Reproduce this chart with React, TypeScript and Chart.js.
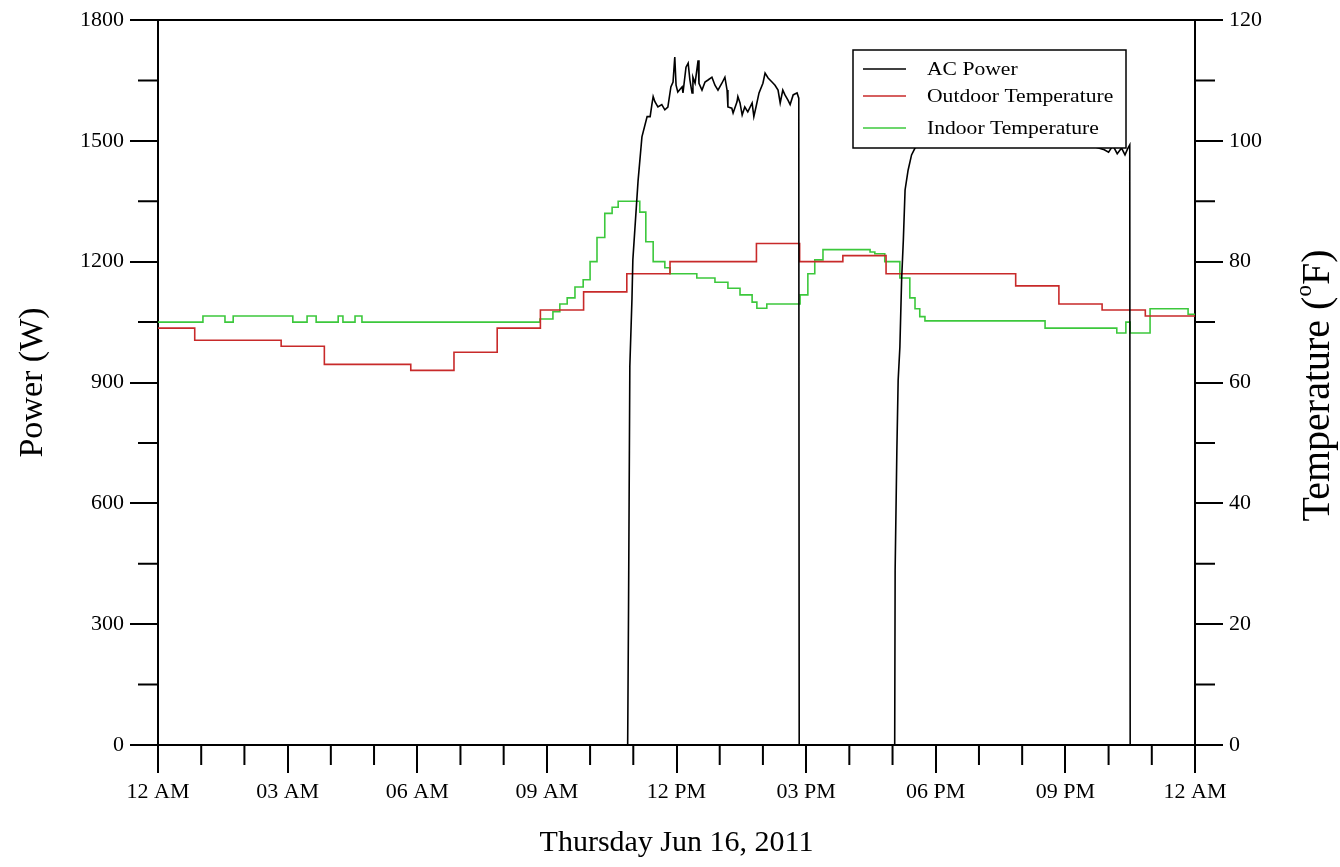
import React, { useEffect, useRef } from 'react';
import { Chart, registerables } from 'chart.js';

Chart.register(...registerables);

const X_TICK_LABELS = ['12 AM', '03 AM', '06 AM', '09 AM', '12 PM', '03 PM', '06 PM', '09 PM', '12 AM'];
const SERIES_LABELS = ['AC Power', 'Outdoor Temperature', 'Indoor Temperature'];
const X_TITLE = 'Thursday Jun 16, 2011';
const LEFT_TITLE = 'Power (W)';

const POWER_HOURS = [0, 10.87, 10.89, 10.92, 10.97, 10.99, 11.11, 11.2, 11.32, 11.39, 11.43, 11.46, 11.5, 11.57, 11.66, 11.73, 11.8, 11.87, 11.92, 11.96, 11.99, 12.03, 12.13, 12.15, 12.22, 12.27, 12.31, 12.36, 12.38, 12.43, 12.5, 12.52, 12.59, 12.66, 12.73, 12.82, 12.89, 12.96, 13.05, 13.12, 13.17, 13.19, 13.28, 13.31, 13.4, 13.42, 13.47, 13.52, 13.58, 13.65, 13.75, 13.79, 13.84, 13.91, 14.0, 14.05, 14.12, 14.21, 14.28, 14.35, 14.4, 14.46, 14.51, 14.58, 14.63, 14.7, 14.79, 14.83, 14.84, 17.05, 17.06, 17.1, 17.13, 17.17, 17.21, 17.25, 17.29, 17.36, 17.44, 17.52, 17.6, 18.5, 19.5, 20.5, 21.5, 21.9, 22.0, 22.1, 22.2, 22.3, 22.38, 22.44, 22.49, 22.5, 24];
const POWER_WATTS = [0, 0, 340, 940, 1110, 1205, 1400, 1510, 1560, 1560, 1590, 1610, 1597, 1584, 1590, 1577, 1584, 1634, 1646, 1708, 1638, 1621, 1634, 1619, 1683, 1693, 1651, 1619, 1658, 1643, 1700, 1643, 1626, 1646, 1651, 1658, 1638, 1626, 1643, 1658, 1626, 1584, 1581, 1569, 1597, 1610, 1594, 1564, 1584, 1572, 1594, 1560, 1584, 1619, 1643, 1668, 1656, 1646, 1638, 1626, 1594, 1626, 1614, 1601, 1590, 1614, 1619, 1606, 0, 0, 434, 732, 906, 988, 1155, 1254, 1378, 1427, 1465, 1482, 1488, 1492, 1490, 1489, 1491, 1478, 1472, 1488, 1468, 1482, 1465, 1480, 1490, 0, 0];

const OUTDOOR_HOURS = [0, 0.85, 2.85, 3.85, 5.85, 6.85, 7.85, 8.85, 9.85, 10.85, 11.85, 13.85, 14.85, 15.85, 16.85, 19.85, 20.85, 21.85, 22.85, 24];
const OUTDOOR_TEMPS = [69, 67, 66, 63, 62, 65, 69, 72, 75, 78, 80, 83, 80, 81, 78, 76, 73, 72, 71, 71];

const INDOOR_HOURS = [0, 1.04, 1.55, 1.74, 3.12, 3.45, 3.66, 4.17, 4.28, 4.56, 4.72, 8.84, 9.14, 9.3, 9.47, 9.65, 9.84, 10.0, 10.16, 10.34, 10.51, 10.65, 11.15, 11.29, 11.46, 11.73, 11.85, 12.47, 12.89, 13.19, 13.47, 13.75, 13.86, 14.09, 14.86, 15.04, 15.2, 15.39, 16.48, 16.59, 16.82, 17.17, 17.4, 17.52, 17.63, 17.75, 20.53, 22.19, 22.4, 22.5, 22.96, 23.84, 24];
const INDOOR_TEMPS = [70, 71, 70, 71, 70, 71, 70, 71, 70, 71, 70, 70.5, 71.7, 73, 74, 75.8, 77, 80, 84, 88, 89, 90, 88.2, 83.3, 80, 79, 78, 77.3, 76.6, 75.6, 74.5, 73.3, 72.3, 73, 74.5, 78, 80.3, 82, 81.6, 81.3, 80, 77.3, 74, 72.2, 70.9, 70.2, 69, 68.2, 70, 68.2, 72.2, 71.3, 71.3];

const FONT = "'Liberation Serif', 'Times New Roman', serif";

const toPoints = (xs: number[], ys: number[]) => xs.map((x, i) => ({ x, y: ys[i] }));

const decorPlugin = {
  id: 'decor',
  afterDatasetsDraw(chart: any) {
    const { ctx, chartArea: a, scales } = chart;
    ctx.save();
    ctx.strokeStyle = '#000';
    ctx.lineWidth = 2;
    ctx.beginPath();
    ctx.moveTo(a.left - 1, a.top);
    ctx.lineTo(a.right + 1, a.top);
    ctx.stroke();
    const minorLen = 20;
    ctx.beginPath();
    for (let v = 1; v < 24; v++) {
      if (v % 3 === 0) continue;
      const px = scales.x.getPixelForValue(v);
      ctx.moveTo(px, a.bottom);
      ctx.lineTo(px, a.bottom + minorLen);
    }
    for (let v = 150; v < 1800; v += 300) {
      const py = scales.y.getPixelForValue(v);
      ctx.moveTo(a.left - minorLen, py);
      ctx.lineTo(a.left, py);
    }
    for (let v = 10; v < 120; v += 20) {
      const py = scales.y1.getPixelForValue(v);
      ctx.moveTo(a.right, py);
      ctx.lineTo(a.right + minorLen, py);
    }
    ctx.stroke();

    const bx = a.left + 695, by = a.top + 30, bw = 273, bh = 98;
    ctx.fillStyle = '#fff';
    ctx.fillRect(bx, by, bw, bh);
    ctx.lineWidth = 1.5;
    ctx.strokeRect(bx, by, bw, bh);
    const rows = [19, 46, 78];
    chart.data.datasets.forEach((ds: any, i: number) => {
      const y = by + rows[i];
      ctx.strokeStyle = ds.borderColor;
      ctx.lineWidth = 1.5;
      ctx.beginPath();
      ctx.moveTo(bx + 10, y);
      ctx.lineTo(bx + 53, y);
      ctx.stroke();
      ctx.save();
      ctx.translate(bx + 74, y);
      ctx.scale(1.2, 1);
      ctx.fillStyle = '#000';
      ctx.font = `18px ${FONT}`;
      ctx.textBaseline = 'middle';
      ctx.textAlign = 'left';
      ctx.fillText(ds.label, 0, 1);
      ctx.restore();
    });
    ctx.restore();
  },
  afterDraw(chart: any) {
    const { ctx, chartArea: a } = chart;
    ctx.save();
    ctx.fillStyle = '#000';
    const cx = 1318, cy = (a.top + a.bottom) / 2 + 3;
    ctx.translate(cx, cy);
    ctx.rotate(-Math.PI / 2);
    ctx.textBaseline = 'middle';
    ctx.textAlign = 'left';
    const big = `40px ${FONT}`;
    const small = `23px ${FONT}`;
    const p1 = 'Temperature (', p2 = 'o', p3 = 'F)';
    ctx.font = big;
    const w1 = ctx.measureText(p1).width;
    const w3 = ctx.measureText(p3).width;
    ctx.font = small;
    const w2 = ctx.measureText(p2).width;
    let x = -(w1 + w2 + w3) / 2;
    ctx.font = big;
    ctx.fillText(p1, x, 0);
    x += w1;
    ctx.font = small;
    ctx.fillText(p2, x, -13);
    x += w2;
    ctx.font = big;
    ctx.fillText(p3, x, 0);
    ctx.restore();
  },
};

export default function App() {
  const ref = useRef<HTMLCanvasElement>(null);
  useEffect(() => {
    const tickFont = { family: FONT, size: 22 };
    const grid = { drawOnChartArea: false, drawTicks: true, tickLength: 28, color: '#000', lineWidth: 2 };
    const border = { display: true, color: '#000', width: 2 };
    const plain = (v: any) => String(v);
    const chart = new Chart(ref.current as HTMLCanvasElement, {
      type: 'line',
      data: {
        datasets: [
          {
            label: SERIES_LABELS[0],
            data: toPoints(POWER_HOURS, POWER_WATTS),
            borderColor: '#000000',
            borderWidth: 1.6,
            pointRadius: 0,
            yAxisID: 'y',
          },
          {
            label: SERIES_LABELS[1],
            data: toPoints(OUTDOOR_HOURS, OUTDOOR_TEMPS),
            borderColor: '#c82a2a',
            borderWidth: 1.6,
            pointRadius: 0,
            stepped: 'before',
            yAxisID: 'y1',
          },
          {
            label: SERIES_LABELS[2],
            data: toPoints(INDOOR_HOURS, INDOOR_TEMPS),
            borderColor: '#3cc83c',
            borderWidth: 1.6,
            pointRadius: 0,
            stepped: 'before',
            yAxisID: 'y1',
          },
        ],
      },
      options: {
        responsive: false,
        animation: false,
        events: [],
        layout: { padding: { top: 20, left: 0, right: 0, bottom: 0 } },
        plugins: { legend: { display: false }, tooltip: { enabled: false } },
        scales: {
          x: {
            type: 'linear',
            position: 'bottom',
            min: 0,
            max: 24,
            ticks: {
              stepSize: 3,
              autoSkip: false,
              maxRotation: 0,
              padding: 6,
              color: '#000',
              font: tickFont,
              callback: (v: any) => X_TICK_LABELS[Math.round(Number(v) / 3)] ?? '',
            },
            grid,
            border,
            title: { display: true, text: X_TITLE, color: '#000', font: { family: FONT, size: 30 }, padding: { top: 0, bottom: 6 } },
            afterFit: (s: any) => { s.height = 122; },
          },
          y: {
            type: 'linear',
            position: 'left',
            min: 0,
            max: 1800,
            ticks: { stepSize: 300, padding: 6, color: '#000', font: tickFont, callback: plain },
            grid,
            border,
            title: { display: true, text: LEFT_TITLE, color: '#000', font: { family: FONT, size: 34 }, padding: { top: 13, bottom: 0 } },
            afterFit: (s: any) => { s.width = 158; },
          },
          y1: {
            type: 'linear',
            position: 'right',
            min: 0,
            max: 120,
            ticks: { stepSize: 20, padding: 6, color: '#000', font: tickFont, callback: plain },
            grid,
            border,
            afterFit: (s: any) => { s.width = 145; },
          },
        },
      },
      plugins: [decorPlugin],
    } as any);
    return () => chart.destroy();
  }, []);
  return (
    <div style={{ position: 'fixed', left: 0, top: 0, width: 1340, height: 867, background: '#fff' }}>
      <canvas ref={ref} width={1340} height={867} style={{ display: 'block', width: 1340, height: 867 }} />
    </div>
  );
}
